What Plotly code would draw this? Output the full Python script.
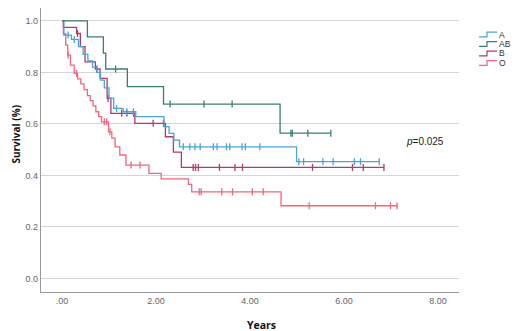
import numpy as np
import plotly.graph_objects as go

# ---- data ----
groups = ["A", "AB", "B", "O"]
colors = {"A": "#4aa3da", "AB": "#3e7d72", "B": "#b23a6c", "O": "#f1677b"}

A_time = [0, 0.04, 0.20, 0.35, 0.45, 0.55, 0.65, 0.74, 0.82, 0.90, 1.00, 1.10, 1.30, 1.57, 2.17, 2.28, 2.38, 2.50, 4.99]
A_surv = [1.0, 0.945, 0.928, 0.90, 0.87, 0.845, 0.82, 0.80, 0.77, 0.74, 0.70, 0.66, 0.647, 0.628, 0.589, 0.563, 0.537, 0.511, 0.453]
A_cens = [0.13, 0.26, 1.16, 1.38, 1.52, 2.58, 2.72, 2.83, 2.94, 3.22, 3.30, 3.50, 3.57, 3.83, 3.90, 4.21,
          5.04, 5.14, 5.55, 5.77, 6.22, 6.35, 6.75]

AB_time = [0, 0.54, 0.88, 0.93, 1.39, 2.16, 4.64]
AB_surv = [1.0, 0.938, 0.875, 0.813, 0.745, 0.677, 0.564]
AB_cens = [1.14, 2.30, 3.02, 3.62, 4.87, 4.90, 5.23, 5.72]

B_time = [0, 0.03, 0.31, 0.39, 0.49, 0.71, 0.81, 0.96, 1.04, 1.55, 2.20, 2.37, 2.54]
B_surv = [1.0, 0.975, 0.951, 0.90, 0.841, 0.813, 0.777, 0.699, 0.641, 0.602, 0.55, 0.49, 0.431]
B_cens = [0.33, 0.74, 0.98, 1.27, 1.38, 1.52, 1.94, 2.16, 2.79, 2.84, 2.90, 3.35, 3.68, 3.84,
          5.33, 6.18, 6.41, 6.85]

O_time = [0, 0.03, 0.08, 0.12, 0.18, 0.26, 0.33, 0.40, 0.47, 0.54, 0.60, 0.66, 0.72, 0.78, 0.84,
          0.99, 1.06, 1.13, 1.23, 1.36, 1.85, 2.11, 2.69, 2.76, 4.66]
O_surv = [1.0, 0.95, 0.906, 0.867, 0.828, 0.796, 0.775, 0.755, 0.733, 0.71, 0.69, 0.67, 0.647, 0.628, 0.608,
          0.569, 0.545, 0.511, 0.479, 0.44, 0.408, 0.386, 0.365, 0.336, 0.282]
O_cens = [0.13, 0.31, 0.90, 0.95, 1.02, 1.47, 1.66, 2.92, 2.96, 3.40, 3.63, 4.05, 4.28,
          5.26, 6.67, 6.99, 7.13]

x_tickvals = [0, 2, 4, 6, 8]
x_ticktext = [".00", "2.00", "4.00", "6.00", "8.00"]
y_tickvals = [0.0, 0.2, 0.4, 0.6, 0.8, 1.0]
y_ticktext = ["0.0", "0.2", "0.4", "0.6", "0.8", "1.0"]

series = {
    "A": (A_time, A_surv, A_cens),
    "AB": (AB_time, AB_surv, AB_cens),
    "B": (B_time, B_surv, B_cens),
    "O": (O_time, O_surv, O_cens),
}

fig = go.Figure()
for g in ["O", "B", "A", "AB"]:
    t, s, c = series[g]
    t = np.array(t, dtype=float)
    s = np.array(s, dtype=float)
    c = np.array(c, dtype=float)
    end = c.max()
    lx = np.append(t, end)
    ly = np.append(s, s[-1])
    fig.add_trace(go.Scatter(x=lx, y=ly, mode="lines", line=dict(color=colors[g], width=1.3, shape="hv"),
                             showlegend=False, hoverinfo="skip"))
    idx = np.searchsorted(t, c, side="right") - 1
    fig.add_trace(go.Scatter(x=c, y=s[idx], mode="markers",
                             marker=dict(symbol="line-ns", size=5, line=dict(color=colors[g], width=1.3)),
                             showlegend=False, hoverinfo="skip"))

# page has an 8px body margin; figure is offset by OFF
OFF = 8
W, H = 520 - OFF, 331 - OFF
# plot area in page pixels: x 41..459, y 8..292
L, R, T, B = 41 - OFF, 459 - OFF, 8 - OFF, 292 - OFF
def px(x):
    return (x - OFF - L) / (R - L)
def py(y):
    return (B - (y - OFF)) / (B - T)

shapes = []
annotations = []
row_y = [34.5, 44.0, 53.5, 63.0]
for g, yy in zip(groups, row_y):
    x0, x1, xm = 479, 497, 487
    path = f"M {px(x0)},{py(yy+2.3)} L {px(xm)},{py(yy+2.3)} L {px(xm)},{py(yy-2.3)} L {px(x1)},{py(yy-2.3)}"
    shapes.append(dict(type="path", xref="paper", yref="paper", path=path,
                       line=dict(color=colors[g], width=1.2)))
    annotations.append(dict(x=px(498), y=py(yy), xref="paper", yref="paper", text=g, showarrow=False,
                            xanchor="left", yanchor="middle", borderpad=0,
                            font=dict(family="Liberation Sans", size=8.5, color="#333333")))

annotations.append(dict(x=px(404), y=py(141.5), xref="paper", yref="paper", text="<i>p</i>=0.025",
                        showarrow=False, xanchor="left", yanchor="middle",
                        font=dict(family="Liberation Sans", size=10, color="#222222")))
annotations.append(dict(x=px(15.5), y=py(134), xref="paper", yref="paper", text="<b>Survival (%)</b>",
                        showarrow=False, textangle=-90, xanchor="center", yanchor="middle",
                        font=dict(family="Open Sans", size=10, color="#111111")))
annotations.append(dict(x=px(261), y=py(325), xref="paper", yref="paper", text="<b>Years</b>",
                        showarrow=False, xanchor="center", yanchor="middle",
                        font=dict(family="Open Sans", size=10.5, color="#111111")))

fig.update_layout(
    width=W, height=H,
    margin=dict(l=L, r=W - R, t=T, b=H - B, autoexpand=False),
    paper_bgcolor="white", plot_bgcolor="white",
    shapes=shapes, annotations=annotations,
    showlegend=False,
    xaxis=dict(range=[-0.447, 8.447], tickvals=x_tickvals, ticktext=x_ticktext, showgrid=False,
               zeroline=False, showline=True, linecolor="#9a9a9a", linewidth=1.2, ticks="",
               tickfont=dict(family="Liberation Sans", size=9, color="#666666")),
    yaxis=dict(range=[-0.053, 1.05], tickvals=y_tickvals, ticktext=y_ticktext, showgrid=True,
               gridcolor="#d6d6d6", gridwidth=1.3, zeroline=False, showline=True,
               linecolor="#9a9a9a", linewidth=1.2, ticks="",
               tickfont=dict(family="Liberation Sans", size=9, color="#666666")),
)

fig.write_html("out.html")
